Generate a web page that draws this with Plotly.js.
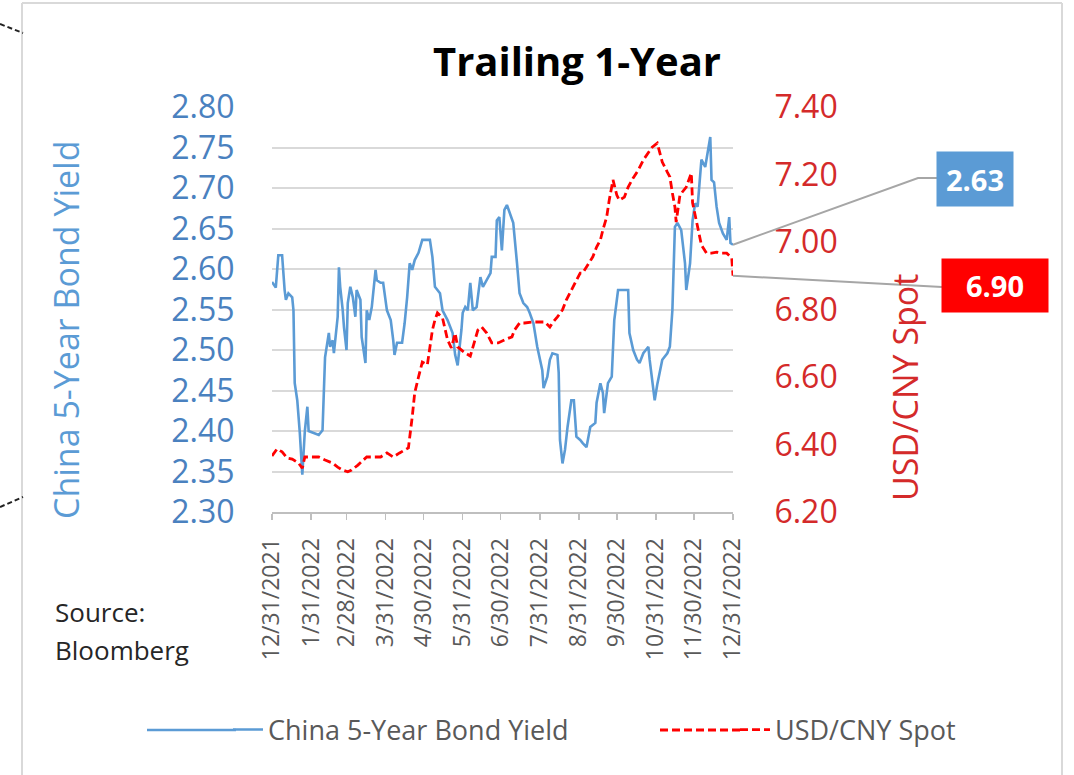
<!DOCTYPE html>
<html>
<head>
<meta charset="utf-8">
<script src="https://cdn.plot.ly/plotly-3.0.1.min.js"></script>
<style>
  html, body { margin: 0; padding: 0; background: #ffffff; }
  #chart { width: 1074px; height: 775px; }
</style>
</head>
<body>
<div id="chart"></div>
<script>
// ---------------- DATA ----------------
const bondName = 'China 5-Year Bond Yield';
const fxName = 'USD/CNY Spot';

const bondDates = ['2021-12-31','2022-01-03','2022-01-05','2022-01-08','2022-01-10','2022-01-11','2022-01-13','2022-01-16','2022-01-17','2022-01-18','2022-01-20','2022-01-21','2022-01-22','2022-01-24','2022-01-26','2022-01-28','2022-01-29','2022-02-06','2022-02-09','2022-02-11','2022-02-14','2022-02-15','2022-02-17','2022-02-18','2022-02-21','2022-02-22','2022-02-23','2022-02-25','2022-02-26','2022-02-28','2022-03-01','2022-03-03','2022-03-05','2022-03-07','2022-03-08','2022-03-11','2022-03-12','2022-03-15','2022-03-16','2022-03-18','2022-03-20','2022-03-23','2022-03-24','2022-03-27','2022-03-29','2022-04-01','2022-04-04','2022-04-06','2022-04-07','2022-04-09','2022-04-13','2022-04-15','2022-04-17','2022-04-19','2022-04-21','2022-04-23','2022-04-26','2022-04-29','2022-05-05','2022-05-07','2022-05-09','2022-05-13','2022-05-15','2022-05-19','2022-05-21','2022-05-23','2022-05-25','2022-05-27','2022-05-30','2022-05-31','2022-06-02','2022-06-04','2022-06-06','2022-06-08','2022-06-11','2022-06-14','2022-06-16','2022-06-19','2022-06-22','2022-06-23','2022-06-26','2022-06-27','2022-06-29','2022-07-01','2022-07-03','2022-07-05','2022-07-07','2022-07-10','2022-07-13','2022-07-15','2022-07-18','2022-07-21','2022-07-23','2022-07-26','2022-07-29','2022-07-31','2022-08-02','2022-08-03','2022-08-06','2022-08-08','2022-08-10','2022-08-14','2022-08-15','2022-08-16','2022-08-18','2022-08-20','2022-08-22','2022-08-25','2022-08-27','2022-08-29','2022-09-01','2022-09-03','2022-09-06','2022-09-09','2022-09-13','2022-09-14','2022-09-17','2022-09-19','2022-09-20','2022-09-23','2022-09-26','2022-09-28','2022-10-01','2022-10-09','2022-10-10','2022-10-13','2022-10-16','2022-10-18','2022-10-21','2022-10-25','2022-10-26','2022-10-30','2022-11-01','2022-11-05','2022-11-09','2022-11-11','2022-11-13','2022-11-15','2022-11-17','2022-11-20','2022-11-23','2022-11-24','2022-11-27','2022-11-29','2022-12-01','2022-12-03','2022-12-06','2022-12-09','2022-12-10','2022-12-13','2022-12-14','2022-12-16','2022-12-18','2022-12-20','2022-12-23','2022-12-26','2022-12-28','2022-12-29','2022-12-31'];

const bondYield = [2.584,2.577,2.617,2.617,2.574,2.562,2.570,2.565,2.549,2.459,2.438,2.422,2.398,2.346,2.400,2.430,2.400,2.395,2.401,2.491,2.521,2.504,2.512,2.496,2.541,2.602,2.578,2.549,2.528,2.500,2.558,2.578,2.565,2.541,2.574,2.562,2.516,2.484,2.549,2.537,2.553,2.599,2.586,2.583,2.583,2.549,2.537,2.512,2.494,2.509,2.509,2.533,2.565,2.607,2.599,2.611,2.620,2.636,2.636,2.615,2.578,2.570,2.549,2.537,2.528,2.521,2.494,2.481,2.525,2.546,2.553,2.549,2.583,2.549,2.553,2.590,2.578,2.586,2.595,2.615,2.615,2.660,2.664,2.623,2.673,2.679,2.669,2.657,2.607,2.570,2.558,2.553,2.546,2.533,2.504,2.491,2.475,2.453,2.467,2.488,2.496,2.494,2.472,2.389,2.360,2.377,2.405,2.438,2.438,2.393,2.389,2.385,2.380,2.405,2.410,2.435,2.459,2.447,2.422,2.459,2.467,2.537,2.574,2.574,2.521,2.500,2.488,2.484,2.496,2.504,2.488,2.438,2.457,2.488,2.496,2.504,2.549,2.652,2.657,2.648,2.607,2.574,2.607,2.660,2.681,2.677,2.735,2.726,2.735,2.763,2.710,2.707,2.677,2.657,2.644,2.636,2.664,2.632,2.630];

const fxDates = ['2021-12-31','2022-01-04','2022-01-08','2022-01-12','2022-01-16','2022-01-21','2022-01-24','2022-01-26','2022-02-01','2022-02-06','2022-02-11','2022-02-17','2022-02-21','2022-02-25','2022-03-01','2022-03-04','2022-03-09','2022-03-13','2022-03-16','2022-03-21','2022-03-27','2022-04-01','2022-04-06','2022-04-11','2022-04-18','2022-04-21','2022-04-23','2022-04-26','2022-04-29','2022-05-03','2022-05-05','2022-05-07','2022-05-09','2022-05-11','2022-05-15','2022-05-17','2022-05-19','2022-05-22','2022-05-25','2022-05-27','2022-05-30','2022-06-02','2022-06-06','2022-06-08','2022-06-12','2022-06-15','2022-06-19','2022-06-23','2022-06-28','2022-07-03','2022-07-09','2022-07-11','2022-07-15','2022-07-19','2022-07-25','2022-07-30','2022-08-04','2022-08-08','2022-08-10','2022-08-14','2022-08-18','2022-08-21','2022-08-24','2022-08-26','2022-08-29','2022-09-01','2022-09-03','2022-09-06','2022-09-09','2022-09-11','2022-09-14','2022-09-17','2022-09-19','2022-09-22','2022-09-24','2022-09-27','2022-09-30','2022-10-02','2022-10-06','2022-10-09','2022-10-13','2022-10-17','2022-10-21','2022-10-25','2022-10-28','2022-11-01','2022-11-03','2022-11-05','2022-11-09','2022-11-11','2022-11-13','2022-11-15','2022-11-16','2022-11-19','2022-11-24','2022-11-28','2022-11-29','2022-12-02','2022-12-06','2022-12-10','2022-12-14','2022-12-18','2022-12-22','2022-12-26','2022-12-30','2022-12-31'];

const fxSpot = [6.366,6.387,6.378,6.360,6.357,6.345,6.330,6.363,6.363,6.363,6.354,6.345,6.333,6.324,6.319,6.324,6.339,6.354,6.363,6.363,6.363,6.375,6.363,6.375,6.390,6.481,6.553,6.600,6.644,6.636,6.695,6.739,6.769,6.790,6.775,6.745,6.710,6.686,6.730,6.689,6.680,6.671,6.662,6.689,6.739,6.748,6.730,6.701,6.701,6.710,6.719,6.739,6.760,6.760,6.763,6.763,6.763,6.748,6.760,6.778,6.799,6.828,6.849,6.867,6.887,6.908,6.908,6.926,6.947,6.956,6.985,7.006,7.036,7.074,7.124,7.184,7.139,7.124,7.133,7.163,7.190,7.213,7.243,7.267,7.281,7.293,7.267,7.237,7.207,7.193,7.145,7.104,7.059,7.139,7.163,7.204,7.116,7.065,6.991,6.967,6.967,6.970,6.967,6.967,6.953,6.900];

const xTickVals = ['2021-12-31','2022-01-31','2022-02-28','2022-03-31','2022-04-30','2022-05-31','2022-06-30','2022-07-31','2022-08-31','2022-09-30','2022-10-31','2022-11-30','2022-12-31'];
const xTickText = ['12/31/2021','1/31/2022','2/28/2022','3/31/2022','4/30/2022','5/31/2022','6/30/2022','7/31/2022','8/31/2022','9/30/2022','10/31/2022','11/30/2022','12/31/2022'];
const yLeftTicks = [2.30,2.35,2.40,2.45,2.50,2.55,2.60,2.65,2.70,2.75,2.80];
const yRightTicks = [6.20,6.40,6.60,6.80,7.00,7.20,7.40];

// ---------------- LAYOUT HELPERS ----------------
const W = 1074, H = 775;
const M = { l: 272, r: 341, t: 107, b: 263 };
const PW = W - M.l - M.r, PH = H - M.t - M.b;
const px2x = px => (px - M.l) / PW;
const py2y = py => (H - M.b - py) / PH;

const FONT = 'Open Sans, Lato, DejaVu Sans, sans-serif';
const BLUE = '#5b9bd5';
const BLUE_TXT = '#4a81bf';
const RED = '#ff0000';
const RED_TXT = '#d42a2a';
const GREY_TXT = '#595959';
const LEGEND_Y = 730;

const lastBond = bondYield[bondYield.length - 1];
const lastFx = fxSpot[fxSpot.length - 1];

const traces = [
  {
    x: bondDates, y: bondYield, name: bondName, type: 'scatter', mode: 'lines',
    line: { color: BLUE, width: 2.6 }, yaxis: 'y', legend: 'legend'
  },
  {
    x: fxDates, y: fxSpot, name: fxName, type: 'scatter', mode: 'lines',
    line: { color: RED, width: 2.8, dash: '8px,4px' }, yaxis: 'y2', legend: 'legend2'
  }
];

const legendFont = { family: FONT, size: 27, color: GREY_TXT };

const layout = {
  width: W, height: H,
  margin: M,
  paper_bgcolor: '#ffffff',
  plot_bgcolor: '#ffffff',
  font: { family: FONT },
  title: {
    text: '<b>Trailing 1-Year</b>',
    font: { family: FONT, size: 40, color: '#000000' },
    x: 577 / W, xanchor: 'center', xref: 'container',
    y: 1 - 62 / H, yanchor: 'middle', yref: 'container'
  },
  showlegend: true,
  legend: {
    orientation: 'h', x: px2x(228), xanchor: 'left',
    y: py2y(LEGEND_Y), yanchor: 'middle',
    font: legendFont, bgcolor: 'rgba(0,0,0,0)'
  },
  legend2: {
    orientation: 'h', x: px2x(735), xanchor: 'left',
    y: py2y(LEGEND_Y), yanchor: 'middle',
    font: legendFont, bgcolor: 'rgba(0,0,0,0)'
  },
  xaxis: {
    type: 'date',
    range: ['2021-12-31', '2022-12-31'],
    tickmode: 'array', tickvals: xTickVals, ticktext: xTickText,
    tickangle: -90,
    tickfont: { family: FONT, size: 23, color: GREY_TXT },
    ticklabelstandoff: 9,
    showgrid: false, zeroline: false,
    showline: true, linecolor: '#bfbfbf', linewidth: 2,
    ticks: 'outside', ticklen: 6, tickcolor: '#bfbfbf', tickwidth: 1.5,
    fixedrange: true
  },
  yaxis: {
    range: [2.30, 2.80],
    tickmode: 'array', tickvals: yLeftTicks, ticktext: yLeftTicks.map(v => v.toFixed(2)),
    tickfont: { family: FONT, size: 32, color: BLUE_TXT },
    showgrid: true, gridcolor: '#d9d9d9', gridwidth: 2,
    zeroline: false, showline: false,
    ticks: 'outside', ticklen: 30, tickcolor: 'rgba(0,0,0,0)',
    fixedrange: true
  },
  yaxis2: {
    overlaying: 'y', side: 'right',
    range: [6.20, 7.40],
    tickmode: 'array', tickvals: yRightTicks, ticktext: yRightTicks.map(v => v.toFixed(2)),
    tickfont: { family: FONT, size: 32, color: RED_TXT },
    showgrid: false, zeroline: false, showline: false,
    ticks: 'outside', ticklen: 34, tickcolor: 'rgba(0,0,0,0)',
    fixedrange: true
  },
  annotations: [
    { // left axis title
      text: bondName, textangle: -90,
      xref: 'paper', yref: 'paper', x: px2x(66), y: py2y(330),
      xanchor: 'center', yanchor: 'middle', showarrow: false,
      font: { family: FONT, size: 34, color: BLUE }
    },
    { // right axis title
      text: fxName, textangle: -90,
      xref: 'paper', yref: 'paper', x: px2x(905), y: py2y(388),
      xanchor: 'center', yanchor: 'middle', showarrow: false,
      font: { family: FONT, size: 34, color: RED_TXT }
    },
    { // source, line 1
      text: 'Source:', align: 'left',
      xref: 'paper', yref: 'paper', x: px2x(53), y: py2y(612),
      xanchor: 'left', yanchor: 'middle', showarrow: false,
      font: { family: FONT, size: 26, color: '#262626' }
    },
    { // source, line 2
      text: 'Bloomberg', align: 'left',
      xref: 'paper', yref: 'paper', x: px2x(53), y: py2y(650),
      xanchor: 'left', yanchor: 'middle', showarrow: false,
      font: { family: FONT, size: 26, color: '#262626' }
    },
    { // last bond value callout
      text: '<b>' + lastBond.toFixed(2) + '</b>',
      xref: 'paper', yref: 'paper', x: px2x(975), y: py2y(179),
      xanchor: 'center', yanchor: 'middle', showarrow: false,
      width: 76, height: 54, borderpad: 0, bgcolor: BLUE,
      font: { family: FONT, size: 29, color: '#ffffff' }
    },
    { // last fx value callout
      text: '<b>' + lastFx.toFixed(2) + '</b>',
      xref: 'paper', yref: 'paper', x: px2x(995), y: py2y(285),
      xanchor: 'center', yanchor: 'middle', showarrow: false,
      width: 106, height: 53, borderpad: 0, bgcolor: RED,
      font: { family: FONT, size: 29, color: '#ffffff' }
    }
  ],
  shapes: [
    // outer chart frame
    { type: 'line', xref: 'paper', yref: 'paper', x0: px2x(22), x1: px2x(22), y0: py2y(3), y1: py2y(775),
      line: { color: '#d9d9d9', width: 2 } },
    { type: 'line', xref: 'paper', yref: 'paper', x0: px2x(22), x1: px2x(1062), y0: py2y(3), y1: py2y(3),
      line: { color: '#d9d9d9', width: 2 } },
    { type: 'line', xref: 'paper', yref: 'paper', x0: px2x(1062), x1: px2x(1062), y0: py2y(3), y1: py2y(775),
      line: { color: '#d9d9d9', width: 2 } },
    // connector stubs at the left edge
    { type: 'line', xref: 'paper', yref: 'paper', x0: px2x(0), x1: px2x(23), y0: py2y(24), y1: py2y(33),
      line: { color: '#222222', width: 2, dash: '5px,3px' } },
    { type: 'line', xref: 'paper', yref: 'paper', x0: px2x(0), x1: px2x(23), y0: py2y(507), y1: py2y(497),
      line: { color: '#222222', width: 2, dash: '5px,3px' } },
    // longer legend keys (extend the library's short legend samples)
    { type: 'line', xref: 'paper', yref: 'paper', x0: px2x(147), x1: px2x(236), y0: py2y(LEGEND_Y), y1: py2y(LEGEND_Y),
      line: { color: BLUE, width: 2.6 } },
    { type: 'line', xref: 'paper', yref: 'paper', x0: px2x(660), x1: px2x(740), y0: py2y(LEGEND_Y), y1: py2y(LEGEND_Y),
      line: { color: RED, width: 2.8, dash: '8px,4px' } },
    // leader line from last bond value to its callout
    { type: 'path', xref: 'paper', yref: 'y',
      path: 'M 1,' + lastBond + ' L ' + px2x(918) + ',' + (2.80 - (178 - 107) / (PH / 0.5)) +
            ' L ' + px2x(937) + ',' + (2.80 - (178 - 107) / (PH / 0.5)),
      line: { color: '#a6a6a6', width: 2 } },
    // leader line from last fx value to its callout
    { type: 'line', xref: 'paper', yref: 'y2',
      x0: 1, y0: lastFx, x1: px2x(942), y1: 7.40 - (287 - 107) / (PH / 1.2),
      line: { color: '#a6a6a6', width: 2 } }
  ]
};

Plotly.newPlot('chart', traces, layout, { displayModeBar: false, staticPlot: true });
</script>
</body>
</html>
